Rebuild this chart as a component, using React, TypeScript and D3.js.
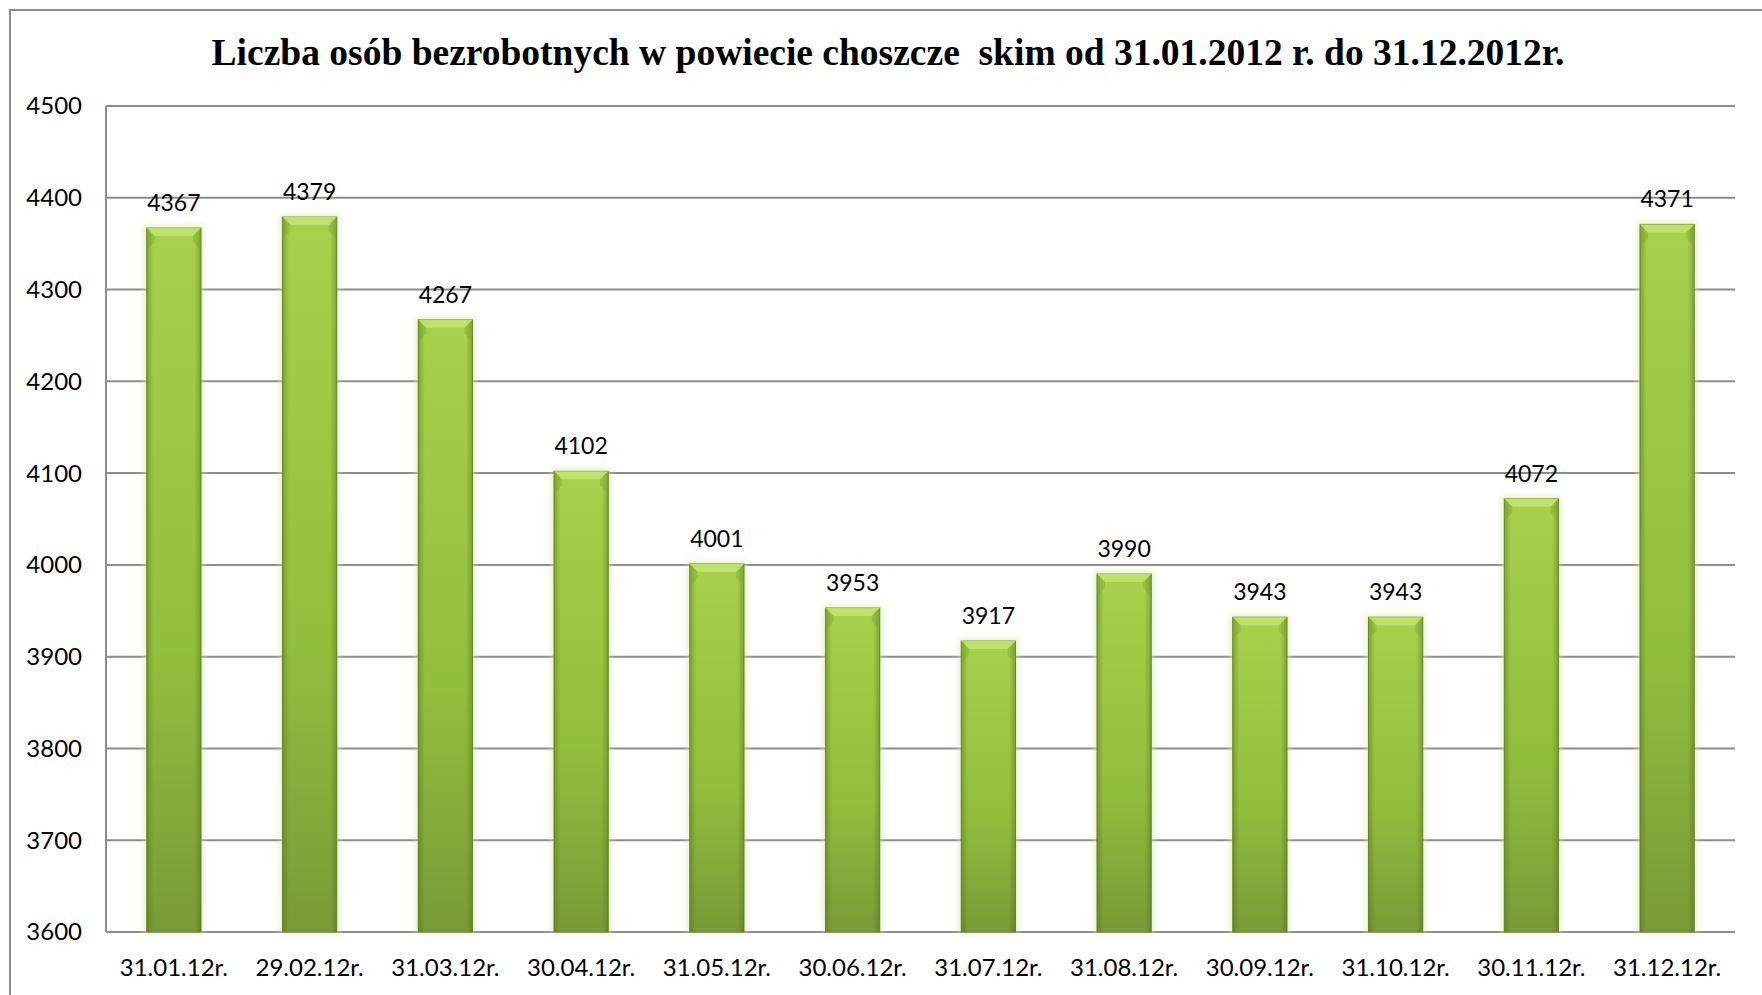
import { useEffect, useRef } from 'react';
import * as d3 from 'd3';

const categories = ['31.01.12r.', '29.02.12r.', '31.03.12r.', '30.04.12r.', '31.05.12r.', '30.06.12r.',
    '31.07.12r.', '31.08.12r.', '30.09.12r.', '31.10.12r.', '30.11.12r.', '31.12.12r.'];
const values = [4367, 4379, 4267, 4102, 4001, 3953, 3917, 3990, 3943, 3943, 4072, 4371];
const yTicks = [3600, 3700, 3800, 3900, 4000, 4100, 4200, 4300, 4400, 4500];
const title = 'Liczba osób bezrobotnych w powiecie choszcze  skim od 31.01.2012 r. do 31.12.2012r.';

const App = () => {
    const svgRef = useRef<SVGSVGElement>(null);
    const W = 1762, H = 995;
    const margin = { top: 106, right: 27, bottom: 63, left: 106 };

    useEffect(() => {
        const svg = d3.select(svgRef.current);
        svg.selectAll('*').remove();

        const x = d3.scaleBand().domain(categories).range([margin.left, W - margin.right])
            .paddingInner(0.6).paddingOuter(0.3);
        const y = d3.scaleLinear().domain([3600, 4500]).range([H - margin.bottom, margin.top]);

        const defs = svg.append('defs');
        const vg = defs.append('linearGradient').attr('id', 'barV').attr('x1', 0).attr('y1', 0).attr('x2', 0).attr('y2', 1);
        vg.append('stop').attr('offset', '0%').attr('stop-color', '#acd64e');
        vg.append('stop').attr('offset', '60%').attr('stop-color', '#96c33f');
        vg.append('stop').attr('offset', '100%').attr('stop-color', '#7b9d39');
        const hg = defs.append('linearGradient').attr('id', 'barH').attr('x1', 0).attr('y1', 0).attr('x2', 1).attr('y2', 0);
        hg.append('stop').attr('offset', '0%').attr('stop-color', '#4a6a18').attr('stop-opacity', 0.45);
        hg.append('stop').attr('offset', '12%').attr('stop-color', '#4a6a18').attr('stop-opacity', 0.05);
        hg.append('stop').attr('offset', '88%').attr('stop-color', '#4a6a18').attr('stop-opacity', 0.05);
        hg.append('stop').attr('offset', '100%').attr('stop-color', '#4a6a18').attr('stop-opacity', 0.45);
        const blur = defs.append('filter').attr('id', 'soft').attr('x', '-30%').attr('y', '-10%').attr('width', '160%').attr('height', '120%');
        blur.append('feGaussianBlur').attr('stdDeviation', 3);

        // frame
        svg.append('rect').attr('x', 10).attr('y', 10).attr('width', W + 40).attr('height', H + 40)
            .attr('fill', 'white').attr('stroke', '#8c8c8c').attr('stroke-width', 2);

        svg.append('text').attr('x', 888).attr('y', 65).attr('text-anchor', 'middle')
            .attr('font-family', '"Liberation Serif", "Times New Roman", serif').attr('font-weight', 'bold')
            .attr('font-size', 37.5).attr('xml:space', 'preserve').style('white-space', 'pre').text(title);

        // gridlines
        svg.append('g').selectAll('line').data(yTicks).join('line')
            .attr('x1', margin.left).attr('x2', W - margin.right)
            .attr('y1', d => y(d)).attr('y2', d => y(d))
            .attr('stroke', '#8c8c8c').attr('stroke-width', 2);
        svg.append('line').attr('x1', margin.left).attr('x2', margin.left)
            .attr('y1', y(4500)).attr('y2', y(3600)).attr('stroke', '#8c8c8c').attr('stroke-width', 2);

        svg.append('g').selectAll('text').data(yTicks).join('text')
            .attr('x', 82).attr('y', d => y(d)).attr('dy', '0.35em').attr('text-anchor', 'end')
            .attr('font-family', 'Lato, sans-serif').attr('font-size', 24).attr('fill', '#000')
            .text(d => d);

        const bars = svg.append('g').selectAll('g').data(values).join('g');
        const bw = x.bandwidth();
        const bx = (i: number) => x(categories[i]) as number;
        const bevel = 8;

        bars.append('rect').attr('x', (d, i) => bx(i) - 3).attr('y', d => y(d) - 3)
            .attr('width', bw + 6).attr('height', d => y(3600) - y(d) + 5)
            .attr('fill', '#d8e8b0').attr('opacity', 0.6).attr('filter', 'url(#soft)');
        bars.append('rect').attr('x', (d, i) => bx(i)).attr('y', d => y(d))
            .attr('width', bw).attr('height', d => y(3600) - y(d))
            .attr('fill', 'url(#barV)').attr('stroke', '#6f8f2c').attr('stroke-width', 1);
        bars.append('rect').attr('x', (d, i) => bx(i)).attr('y', d => y(d))
            .attr('width', bw).attr('height', d => y(3600) - y(d))
            .attr('fill', 'url(#barH)');
        // top bevel
        bars.append('path').attr('d', (d, i) => {
            const x0 = bx(i), x1 = x0 + bw, t = y(d);
            return `M${x0},${t}L${x1},${t}L${x1 - bevel},${t + bevel}L${x0 + bevel},${t + bevel}Z`;
        }).attr('fill', '#c2e274').attr('opacity', 0.9);
        bars.append('path').attr('d', (d, i) => {
            const x0 = bx(i), t = y(d);
            return `M${x0},${t}L${x0 + bevel},${t + bevel}L${x0 + bevel},${t + bevel + 6}L${x0},${t + bevel + 14}Z`;
        }).attr('fill', '#7e9f34').attr('opacity', 0.35);
        bars.append('path').attr('d', (d, i) => {
            const x1 = bx(i) + bw, t = y(d);
            return `M${x1},${t}L${x1 - bevel},${t + bevel}L${x1 - bevel},${t + bevel + 6}L${x1},${t + bevel + 14}Z`;
        }).attr('fill', '#7e9f34').attr('opacity', 0.35);

        bars.append('text').attr('x', (d, i) => bx(i) + bw / 2).attr('y', d => y(d) - 17)
            .attr('text-anchor', 'middle').attr('font-family', 'Lato, sans-serif').attr('font-size', 23)
            .text(d => d);

        svg.append('g').selectAll('text').data(categories).join('text')
            .attr('x', d => (x(d) as number) + bw / 2).attr('y', 976).attr('text-anchor', 'middle')
            .attr('font-family', 'Lato, sans-serif').attr('font-size', 24)
            .text(d => d);
    }, []);

    return (
        <svg ref={svgRef} width={W} height={H}
            style={{ position: 'absolute', left: 0, top: 0, background: 'white' }} />
    );
};

export default App;
